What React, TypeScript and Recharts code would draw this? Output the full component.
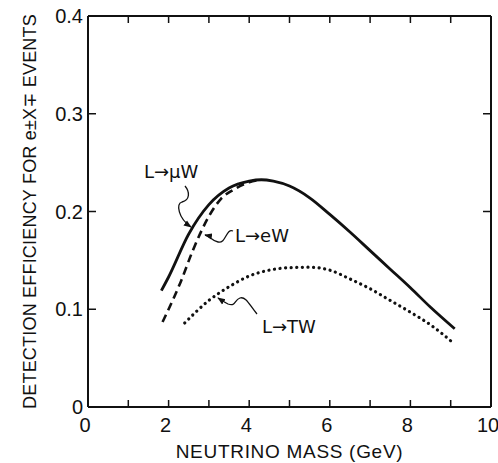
import React from 'react';
import { LineChart, Line, XAxis, YAxis, Label } from 'recharts';

// neutrino mass (GeV) -> detection efficiency
const MU_X = [1.82, 2.0, 2.5, 3.0, 3.5, 4.0, 4.3, 4.6, 5.0, 5.5, 6.0, 6.5, 7.0, 7.5, 8.0, 8.5, 9.1];
const MU_Y = [0.119, 0.133, 0.177, 0.207, 0.224, 0.231, 0.2325, 0.231, 0.226, 0.214, 0.197, 0.179, 0.16, 0.141, 0.122, 0.102, 0.08];

const E_X = [1.85, 2.0, 2.3, 2.6, 3.0, 3.3, 3.6, 4.0, 4.3];
const E_Y = [0.087, 0.1, 0.128, 0.16, 0.195, 0.213, 0.222, 0.23, 0.2325];

const TAU_X = [2.4, 3.0, 3.5, 4.0, 4.5, 5.0, 5.5, 6.0, 6.5, 7.0, 7.5, 8.0, 8.5, 9.05];
const TAU_Y = [0.086, 0.109, 0.123, 0.134, 0.14, 0.1425, 0.143, 0.14, 0.131, 0.121, 0.109, 0.097, 0.084, 0.066];

const X_TICKS = [0, 1, 2, 3, 4, 5, 6, 7, 8, 9, 10];
const Y_TICKS = [0, 0.1, 0.2, 0.3, 0.4];

const zip = (xs: number[], ys: number[]) => xs.map((x, i) => ({ x, y: ys[i] }));
const muData = zip(MU_X, MU_Y);
const eData = zip(E_X, E_Y);
const tauData = zip(TAU_X, TAU_Y);

const SANS = "'Liberation Sans', 'DejaVu Sans', sans-serif";
const DJ = "'DejaVu Sans', sans-serif";
const INK = '#111';

const tickFont = { fontSize: 20, fontFamily: SANS, fill: INK };
const axisLine = { stroke: INK, strokeWidth: 2 };
const tickLine = { stroke: INK, strokeWidth: 1.5 };

const fmtY = (v: number) => (v === 0 ? '0' : v.toFixed(1));
const blank = () => '';

// bottom tick labels: only even masses, nudged a bit left like the original lettering
const XTick = (props: any) => {
  const v = props.payload.value;
  if (v % 2 !== 0) return <g />;
  return (
    <text x={props.x - 3} y={props.y + 15} textAnchor="middle" fontSize={20} fontFamily={SANS} fill={INK}>
      {v}
    </text>
  );
};

export default function App() {
  return (
    <div style={{ position: 'absolute', left: 0, top: 0, width: 498, height: 463, background: '#fff' }}>
      <LineChart width={498} height={463} margin={{ top: 0, right: 0, bottom: 0, left: 0 }}>
        <XAxis
          type="number"
          dataKey="x"
          domain={[0, 10]}
          ticks={X_TICKS}
          interval={0}
          height={56}
          tickSize={-7}
          tickMargin={17}
          axisLine={axisLine}
          tickLine={tickLine}
          tick={XTick}
          allowDataOverflow
        >
          <Label
            value="NEUTRINO MASS (GeV)"
            position="insideBottom"
            offset={5}
            style={{ fontSize: 19, fontFamily: SANS, fill: INK, letterSpacing: 0.7 }}
          />
        </XAxis>
        <XAxis
          xAxisId="top"
          orientation="top"
          type="number"
          dataKey="x"
          domain={[0, 10]}
          ticks={X_TICKS}
          tickFormatter={blank}
          interval={0}
          height={16}
          tickSize={-7}
          axisLine={axisLine}
          tickLine={tickLine}
          allowDataOverflow
        />
        <YAxis
          type="number"
          domain={[0, 0.4]}
          ticks={Y_TICKS}
          tickFormatter={fmtY}
          interval={0}
          width={88}
          tickSize={-8}
          tickMargin={13}
          axisLine={axisLine}
          tickLine={tickLine}
          tick={tickFont}
          allowDataOverflow
        >
          <Label
            value="DETECTION EFFICIENCY FOR e±X∓ EVENTS"
            angle={-90}
            position="insideLeft"
            offset={30}
            style={{ textAnchor: 'middle', fontSize: 18, fontFamily: SANS, fill: INK, letterSpacing: 0.2 }}
          />
        </YAxis>
        <YAxis
          yAxisId="right"
          orientation="right"
          type="number"
          domain={[0, 0.4]}
          ticks={Y_TICKS}
          tickFormatter={blank}
          interval={0}
          width={7}
          tickSize={-8}
          axisLine={axisLine}
          tickLine={tickLine}
          allowDataOverflow
        />
        <Line data={muData} dataKey="y" type="monotone" stroke={INK} strokeWidth={2.8} dot={false} isAnimationActive={false} />
        <Line data={eData} dataKey="y" type="monotone" stroke={INK} strokeWidth={2.6} strokeDasharray="8 5" dot={false} isAnimationActive={false} />
        <Line
          data={tauData}
          dataKey="y"
          type="monotone"
          stroke={INK}
          strokeWidth={3.2}
          strokeDasharray="0.1 5.5"
          strokeLinecap="round"
          dot={false}
          isAnimationActive={false}
        />
      </LineChart>

      {/* hand-drawn style annotations */}
      <svg width={498} height={463} style={{ position: 'absolute', left: 0, top: 0, pointerEvents: 'none' }}>
        <defs>
          <marker id="ah" viewBox="0 0 10 10" refX="9" refY="5" markerWidth="6" markerHeight="6" orient="auto">
            <path d="M0,1 L10,5 L0,9 z" fill={INK} />
          </marker>
        </defs>
        <g fontFamily={DJ} fontSize={18} fill={INK}>
          <text x={144} y={178}>L→μW</text>
          <text x={235} y={242}>L→eW</text>
          <text x={262} y={333}>L→ΤW</text>
        </g>
        <g fill="none" stroke={INK} strokeWidth={1.3}>
          <path d="M185,186 C190,192 190,200 182,202 C176,204 178,218 191,227" markerEnd="url(#ah)" />
          <path d="M233,231 C226,228 226,244 218,242 C212,241 210,236 205,235" markerEnd="url(#ah)" />
          <path d="M257,314 C250,306 246,296 240,298 C234,300 236,307 228,304 C224,302 221,300 218,298" markerEnd="url(#ah)" />
        </g>
      </svg>
    </div>
  );
}
